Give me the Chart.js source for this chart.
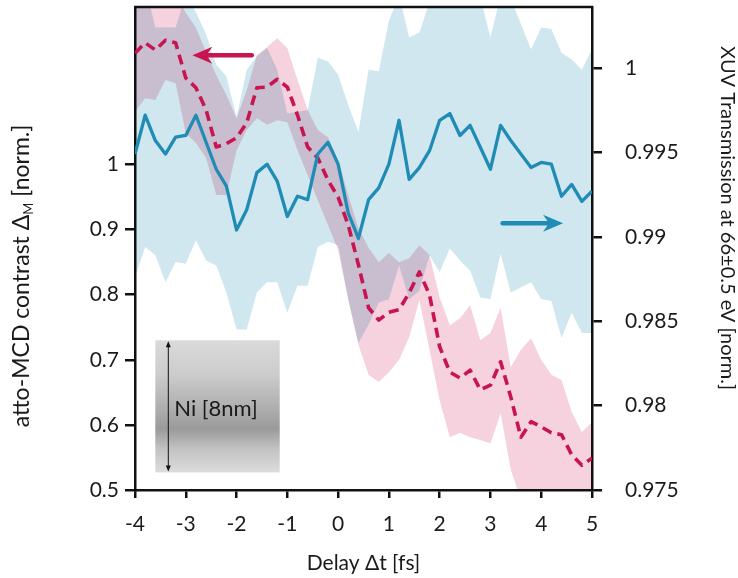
<!DOCTYPE html>
<html>
<head>
<meta charset="utf-8">
<script src="https://cdn.jsdelivr.net/npm/chart.js@4.4.1/dist/chart.umd.min.js"></script>
<style>
  html, body { margin: 0; padding: 0; background: #fff; }
  #wrap { width: 738px; height: 578px; }
</style>
</head>
<body>
<div id="wrap"><canvas id="grafico" width="738" height="578"></canvas></div>
<script>
// delay steps (fs)
const delays = [-4.0, -3.8, -3.6, -3.4, -3.2, -3.0, -2.8, -2.6, -2.4, -2.2,
                -2.0, -1.8, -1.6, -1.4, -1.2, -1.0, -0.8, -0.6, -0.4, -0.2,
                 0.0,  0.2,  0.4,  0.6,  0.8,  1.0,  1.2,  1.4,  1.6,  1.8,
                 2.0,  2.2,  2.4,  2.6,  2.8,  3.0,  3.2,  3.4,  3.6,  3.8,
                 4.0,  4.2,  4.4,  4.6,  4.8,  5.0];

// atto-MCD contrast (left axis) with its error band
const mcd = [1.171, 1.187, 1.176, 1.191, 1.187, 1.133, 1.118, 1.084, 1.027, 1.032,
             1.041, 1.064, 1.118, 1.119, 1.131, 1.119, 1.076, 1.027, 1.010, 0.976,
             0.950, 0.907, 0.846, 0.780, 0.761, 0.773, 0.777, 0.803, 0.835, 0.800,
             0.720, 0.681, 0.672, 0.684, 0.654, 0.661, 0.697, 0.643, 0.581, 0.605,
             0.597, 0.588, 0.585, 0.554, 0.538, 0.549];
const mcdHi = [1.268, 1.291, 1.283, 1.291, 1.260, 1.233, 1.210, 1.173, 1.137, 1.107,
               1.071, 1.114, 1.168, 1.180, 1.194, 1.179, 1.130, 1.084, 1.053, 1.042,
               1.007, 0.953, 0.902, 0.872, 0.850, 0.864, 0.850, 0.856, 0.876, 0.861,
               0.796, 0.753, 0.764, 0.784, 0.730, 0.741, 0.780, 0.689, 0.715, 0.733,
               0.700, 0.677, 0.669, 0.620, 0.589, 0.604];
const mcdLo = [1.081, 1.102, 1.099, 1.130, 1.125, 1.048, 1.033, 1.010, 0.953, 0.953,
               1.022, 1.053, 1.071, 1.061, 1.068, 1.065, 1.022, 0.984, 0.945, 0.907,
               0.869, 0.792, 0.723, 0.677, 0.666, 0.681, 0.700, 0.735, 0.792, 0.715,
               0.638, 0.581, 0.588, 0.581, 0.577, 0.572, 0.618, 0.531, 0.485, 0.480,
               0.470, 0.470, 0.460, 0.460, 0.450, 0.450];

// XUV transmission (right axis) with its error band
const xuv = [0.9949, 0.9972, 0.9957, 0.9949, 0.9959, 0.9960, 0.9972, 0.9956, 0.9940, 0.9930,
             0.9904, 0.9916, 0.9938, 0.9943, 0.9933, 0.9912, 0.9924, 0.9922, 0.9949, 0.9956,
             0.9943, 0.9914, 0.9899, 0.9922, 0.9929, 0.9943, 0.9969, 0.9934, 0.9941, 0.9951,
             0.9969, 0.9973, 0.9960, 0.9966, 0.9953, 0.9940, 0.9966, 0.9957, 0.9949, 0.9941,
             0.9944, 0.9943, 0.9924, 0.9931, 0.9921, 0.9927];
const xuvHi = [1.0052, 1.0049, 1.0024, 1.0024, 1.0024, 1.0043, 1.0033, 1.0020, 1.0002, 0.9995,
               0.9971, 0.9999, 1.0007, 1.0012, 0.9999, 0.9973, 0.9974, 0.9975, 1.0006, 1.0004,
               0.9996, 0.9978, 0.9962, 0.9999, 0.9998, 1.0028, 1.0043, 1.0018, 1.0021, 1.0039,
               1.0043, 1.0045, 1.0042, 1.0044, 1.0042, 1.0018, 1.0043, 1.0041, 1.0026, 1.0011,
               1.0024, 1.0023, 1.0009, 1.0005, 0.9999, 1.0011];
const xuvLo = [0.9876, 0.9894, 0.9889, 0.9873, 0.9885, 0.9884, 0.9898, 0.9886, 0.9883, 0.9867,
               0.9845, 0.9845, 0.9867, 0.9873, 0.9873, 0.9855, 0.9871, 0.9871, 0.9894, 0.9897,
               0.9895, 0.9863, 0.9837, 0.9848, 0.9861, 0.9863, 0.9883, 0.9863, 0.9868, 0.9889,
               0.9879, 0.9893, 0.9886, 0.9880, 0.9864, 0.9863, 0.9890, 0.9867, 0.9870, 0.9873,
               0.9863, 0.9862, 0.9840, 0.9855, 0.9843, 0.9843];

const xTicks = [-4, -3, -2, -1, 0, 1, 2, 3, 4, 5];
const yTicks = [0.5, 0.6, 0.7, 0.8, 0.9, 1];
const y2Ticks = [0.975, 0.98, 0.985, 0.99, 0.995, 1];

const pts = arr => arr.map((v, i) => ({ x: delays[i], y: v }));

const corTexto = '#1a1a1a';
const fonte = { family: 'Lato', size: 21 };

// bands overlap like transparencies: multiply while the fills are painted
const blendPlugin = {
    id: 'blend',
    beforeDraw(chart) { chart.ctx.globalCompositeOperation = 'multiply'; },
    beforeDatasetsDraw(chart) { chart.ctx.globalCompositeOperation = 'source-over'; }
};

function seta(ctx, x1, x2, y, cor) {
    const dir = Math.sign(x2 - x1);
    ctx.save();
    ctx.strokeStyle = cor;
    ctx.fillStyle = cor;
    ctx.lineWidth = 4.5;
    ctx.lineCap = 'round';
    ctx.beginPath();
    ctx.moveTo(x1, y);
    ctx.lineTo(x2 - dir * 14, y);
    ctx.stroke();
    ctx.beginPath();
    ctx.moveTo(x2, y);
    ctx.lineTo(x2 - dir * 20, y - 8.5);
    ctx.lineTo(x2 - dir * 14, y);
    ctx.lineTo(x2 - dir * 20, y + 8.5);
    ctx.closePath();
    ctx.fill();
    ctx.restore();
}

const extrasPlugin = {
    id: 'extras',
    afterDraw(chart) {
        const ctx = chart.ctx;
        const a = chart.chartArea;
        const sx = chart.scales.x, sy = chart.scales.y, sy2 = chart.scales.y2;

        // top frame line
        ctx.save();
        ctx.strokeStyle = '#111';
        ctx.lineWidth = 2.5;
        ctx.beginPath();
        ctx.moveTo(a.left - 1, a.top);
        ctx.lineTo(a.right + 1, a.top);
        ctx.stroke();
        ctx.restore();

        // arrows pointing to each axis
        seta(ctx, sx.getPixelForValue(-1.70), sx.getPixelForValue(-2.87), sy.getPixelForValue(1.168), '#c81450');
        seta(ctx, sx.getPixelForValue(3.24), sx.getPixelForValue(4.43), sy2.getPixelForValue(0.9908), '#1e8cb4');

        // Ni film sketch
        const bx = sx.getPixelForValue(-3.6), bw = sx.getPixelForValue(-1.15) - bx;
        const by = sy.getPixelForValue(0.73), bh = sy.getPixelForValue(0.527) - by;
        const g = ctx.createLinearGradient(0, by, 0, by + bh);
        g.addColorStop(0, '#dadada');
        g.addColorStop(0.25, '#cdcdcd');
        g.addColorStop(0.55, '#aaaaaa');
        g.addColorStop(0.67, '#9a9a9a');
        g.addColorStop(0.82, '#c2c2c2');
        g.addColorStop(1, '#dcdcdc');
        ctx.fillStyle = g;
        ctx.fillRect(bx, by, bw, bh);

        const ax = bx + 13;
        ctx.save();
        ctx.strokeStyle = '#111';
        ctx.fillStyle = '#111';
        ctx.lineWidth = 1;
        ctx.beginPath();
        ctx.moveTo(ax, by + 3);
        ctx.lineTo(ax, by + bh - 3);
        ctx.stroke();
        [[by + 1, 1], [by + bh - 1, -1]].forEach(([yy, d]) => {
            ctx.beginPath();
            ctx.moveTo(ax, yy);
            ctx.lineTo(ax - 2.5, yy + d * 6);
            ctx.lineTo(ax + 2.5, yy + d * 6);
            ctx.closePath();
            ctx.fill();
        });
        ctx.restore();

        ctx.save();
        ctx.fillStyle = corTexto;
        ctx.font = '22px Lato';
        ctx.textBaseline = 'middle';
        ctx.fillText('Ni [8nm]', ax + 6, by + bh * 0.52);
        ctx.restore();

        // axis titles
        ctx.save();
        ctx.fillStyle = corTexto;
        ctx.textBaseline = 'middle';
        ctx.font = '21px Lato';
        ctx.textAlign = 'center';
        ctx.fillText('Delay \u0394t [fs]', (a.left + a.right) / 2, 563);

        // left title with subscript M
        ctx.translate(22, 276);
        ctx.rotate(-Math.PI / 2);
        ctx.textAlign = 'left';
        const p1 = 'atto-MCD contrast \u0394', p2 = 'M', p3 = ' [norm.]';
        ctx.font = '23px Lato';
        const w1 = ctx.measureText(p1).width, w3 = ctx.measureText(p3).width;
        ctx.font = '13px Lato';
        const w2 = ctx.measureText(p2).width;
        let x0 = -(w1 + w2 + w3) / 2;
        ctx.font = '23px Lato';
        ctx.fillText(p1, x0, 0);
        ctx.font = '13px Lato';
        ctx.fillText(p2, x0 + w1, 7);
        ctx.font = '23px Lato';
        ctx.fillText(p3, x0 + w1 + w2, 0);
        ctx.restore();

        ctx.save();
        ctx.fillStyle = corTexto;
        ctx.textBaseline = 'middle';
        ctx.textAlign = 'center';
        ctx.font = '20px Lato';
        ctx.translate(727, 218);
        ctx.rotate(Math.PI / 2);
        ctx.fillText('XUV Transmission at 66\u00b10.5 eV [norm.]', 0, 0);
        ctx.restore();
    }
};

const eixoGrid = tl => ({ drawOnChartArea: false, tickLength: tl, color: '#111', lineWidth: 2.5 });
const eixoBorda = { color: '#111', width: 2.5 };
const semPadding = s => { s.paddingTop = 0; s.paddingBottom = 0; s.paddingLeft = 0; s.paddingRight = 0; };

new Chart(document.getElementById('grafico'), {
    type: 'line',
    data: {
        datasets: [
            { label: 'xuvHi', data: pts(xuvHi), yAxisID: 'y2', borderWidth: 0, pointRadius: 0, fill: false },
            { label: 'xuvLo', data: pts(xuvLo), yAxisID: 'y2', borderWidth: 0, pointRadius: 0,
              fill: '-1', backgroundColor: '#d1e7ef' },
            { label: 'mcdHi', data: pts(mcdHi), yAxisID: 'y', borderWidth: 0, pointRadius: 0, fill: false },
            { label: 'mcdLo', data: pts(mcdLo), yAxisID: 'y', borderWidth: 0, pointRadius: 0,
              fill: '-1', backgroundColor: '#f5d2dd' },
            { label: 'XUV', data: pts(xuv), yAxisID: 'y2', borderColor: '#1e8cb4', borderWidth: 3.3,
              pointRadius: 0, fill: false, tension: 0, borderJoinStyle: 'round' },
            { label: 'MCD', data: pts(mcd), yAxisID: 'y', borderColor: '#c81450', borderWidth: 3.6,
              borderDash: [10, 6], pointRadius: 0, fill: false, tension: 0, borderJoinStyle: 'round' }
        ]
    },
    options: {
        responsive: false,
        animation: false,
        layout: { padding: { top: 7, left: 0, right: 0, bottom: 0 } },
        plugins: {
            legend: { display: false },
            tooltip: { enabled: false },
            filler: { drawTime: 'beforeDatasetsDraw' }
        },
        scales: {
            x: {
                type: 'linear', min: -4, max: 5,
                afterBuildTicks: s => { s.ticks = xTicks.map(v => ({ value: v })); },
                afterFit: s => { s.height = 88; semPadding(s); },
                ticks: { font: fonte, color: corTexto, padding: 14, callback: v => String(v) },
                grid: eixoGrid(8), border: eixoBorda
            },
            y: {
                position: 'left', min: 0.5, max: 1.242,
                afterBuildTicks: s => { s.ticks = yTicks.map(v => ({ value: v })); },
                afterFit: s => { s.width = 135; semPadding(s); },
                ticks: { font: fonte, color: corTexto, padding: 6, callback: v => String(v) },
                grid: eixoGrid(10), border: eixoBorda
            },
            y2: {
                position: 'right', min: 0.975, max: 1.00361,
                afterBuildTicks: s => { s.ticks = y2Ticks.map(v => ({ value: v })); },
                afterFit: s => { s.width = 146; semPadding(s); },
                ticks: { font: fonte, color: corTexto, padding: 23, callback: v => String(v) },
                grid: eixoGrid(10), border: eixoBorda
            }
        }
    },
    plugins: [blendPlugin, extrasPlugin]
});
</script>
</body>
</html>
